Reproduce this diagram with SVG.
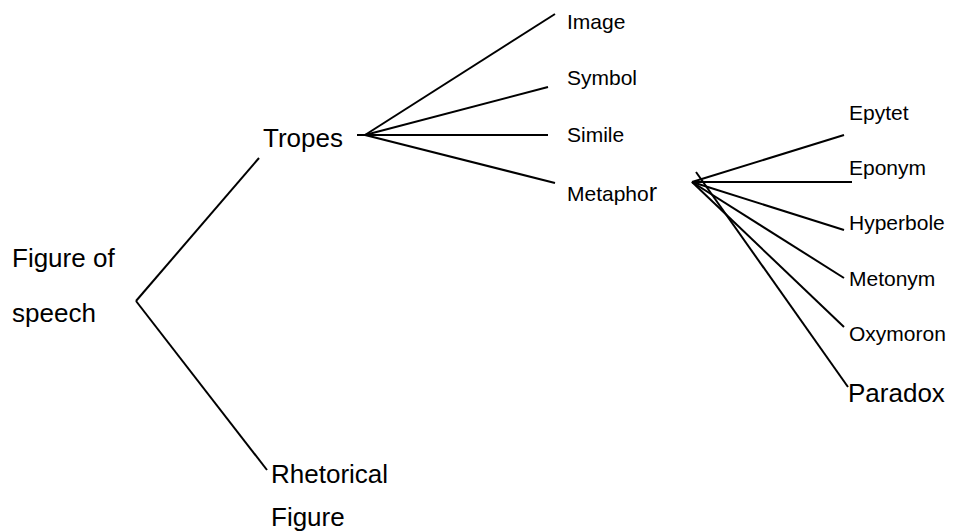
<svg xmlns="http://www.w3.org/2000/svg" width="953" height="532" viewBox="0 0 953 532">
<style>
text{font-family:"Liberation Sans",Arial,sans-serif;fill:#000}
.lg{font-size:26px}
.sm{font-size:21px}
.c line{stroke:#000;stroke-width:2;fill:none}
</style>
<rect width="953" height="532" fill="#fff"/>
<g class="c" id="connectors">
<line x1="259" y1="158" x2="136" y2="301"/>
<line x1="136" y1="301" x2="267" y2="470"/>
<line x1="357" y1="135" x2="548" y2="135"/>
<line x1="365" y1="135" x2="555" y2="14"/>
<line x1="365" y1="135" x2="548" y2="87"/>
<line x1="365" y1="135" x2="555" y2="183"/>
<line x1="692" y1="182" x2="844" y2="135"/>
<line x1="692" y1="182" x2="852" y2="182"/>
<line x1="692" y1="182" x2="844" y2="230"/>
<line x1="692" y1="182" x2="844" y2="278"/>
<line x1="692" y1="182" x2="844" y2="327"/>
<line x1="696" y1="172" x2="848" y2="387"/>
</g>
<g id="figure-of-speech"><text class="lg" x="12" y="267">Figure of</text><text class="lg" x="12" y="322">speech</text></g>
<g id="tropes"><text class="lg" x="263" y="147">Tropes</text></g>
<g id="rhetorical-figure"><text class="lg" x="271" y="483">Rhetorical</text><text class="lg" x="271" y="526">Figure</text></g>
<g id="image"><text class="sm" x="567" y="29">Image</text></g>
<g id="symbol"><text class="sm" x="567" y="85">Symbol</text></g>
<g id="simile"><text class="sm" x="567" y="142">Simile</text></g>
<g id="metaphor"><text class="sm" x="567" y="201">Metapho<tspan font-size="25">r</tspan></text></g>
<g id="epytet"><text class="sm" x="849" y="120">Epytet</text></g>
<g id="eponym"><text class="sm" x="849" y="175">Eponym</text></g>
<g id="hyperbole"><text class="sm" x="849" y="230">Hyperbole</text></g>
<g id="metonym"><text class="sm" x="849" y="286">Metonym</text></g>
<g id="oxymoron"><text class="sm" x="849" y="341">Oxymoron</text></g>
<g id="paradox"><text class="lg" x="848" y="402">Paradox</text></g>
</svg>
